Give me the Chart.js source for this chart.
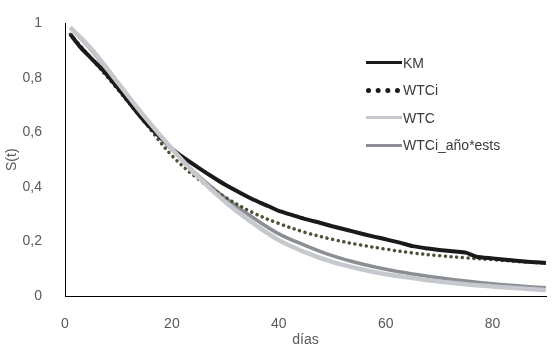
<!DOCTYPE html>
<html lang="es">
<head>
<meta charset="utf-8">
<title>S(t) por días</title>
<script src="https://cdn.jsdelivr.net/npm/chart.js@4.4.1/dist/chart.umd.min.js"></script>
<style>
    html, body { margin: 0; padding: 0; background: #fff; }
    .wrap { position: relative; width: 552px; height: 350px; }
    .legend {
        position: absolute; left: 366px; top: 49px;
        font: 14px "Liberation Sans", Arial, sans-serif; color: #3a3a3a;
    }
    .legend .row { display: flex; align-items: center; height: 27.5px; }
    .legend .sample { width: 36px; margin-right: 1px; }
    .legend .km { border-top: 3px solid #1a1a1a; }
    .legend .wtci { border-top: 5px dotted #1a1a1a; width: 34px; margin-right: 3px; }
    .legend .wtc { border-top: 3px solid #c5c9cd; }
    .legend .ests { border-top: 3px solid #8b8e92; }
</style>
</head>
<body>
<div class="wrap">
    <canvas id="survChart" width="552" height="350"></canvas>
    <div class="legend">
        <div class="row"><span class="sample km"></span>KM</div>
        <div class="row"><span class="sample wtci"></span>WTCi</div>
        <div class="row"><span class="sample wtc"></span>WTC</div>
        <div class="row"><span class="sample ests"></span>WTCi_año*ests</div>
    </div>
</div>
<script>
// values
const kmDays = [1, 3, 5, 7, 10, 13, 15, 17, 20, 22, 25, 28, 30, 33, 35, 38, 40, 43, 45, 48, 50, 53, 55, 58, 60, 63, 65, 68, 70, 73, 75, 77, 80, 83, 85, 88, 90];
const kmValues = [0.96, 0.91, 0.87, 0.83, 0.76, 0.685, 0.638, 0.598, 0.54, 0.51, 0.47, 0.432, 0.408, 0.376, 0.356, 0.33, 0.312, 0.294, 0.282, 0.267, 0.256, 0.241, 0.231, 0.217, 0.208, 0.194, 0.183, 0.174, 0.169, 0.163, 0.159, 0.144, 0.138, 0.132, 0.128, 0.124, 0.121];

const days = [1, 5, 10, 15, 20, 25, 30, 35, 40, 45, 50, 55, 60, 65, 70, 75, 80, 85, 90];
const wtciValues = [0.96, 0.87, 0.755, 0.635, 0.515, 0.428, 0.362, 0.307, 0.266, 0.233, 0.208, 0.188, 0.172, 0.158, 0.148, 0.14, 0.133, 0.126, 0.12];
const wtcValues = [0.985, 0.905, 0.78, 0.655, 0.54, 0.435, 0.345, 0.27, 0.205, 0.16, 0.125, 0.1, 0.08, 0.066, 0.053, 0.043, 0.035, 0.028, 0.022];
const estsValues = [0.985, 0.9, 0.775, 0.65, 0.54, 0.44, 0.36, 0.29, 0.228, 0.185, 0.148, 0.12, 0.098, 0.081, 0.067, 0.055, 0.045, 0.037, 0.03];

const xTicks = [0, 20, 40, 60, 80];
const yTicks = [0, 0.2, 0.4, 0.6, 0.8, 1];

const toPoints = (xs, ys) => xs.map((x, i) => ({ x, y: ys[i] }));
const fontFamily = '"Liberation Sans", Arial, sans-serif';
const tickColor = '#595959';

new Chart(document.getElementById('survChart'), {
    type: 'line',
    data: {
        datasets: [
            {
                label: 'WTC',
                data: toPoints(days, wtcValues),
                borderColor: '#c5c9cd',
                borderWidth: 4.5,
                tension: 0.35,
                order: 0,
            },
            {
                label: 'KM',
                data: toPoints(kmDays, kmValues),
                borderColor: '#1a1a1a',
                borderWidth: 4,
                tension: 0.2,
                order: 1,
            },
            {
                label: 'WTCi',
                data: toPoints(days, wtciValues),
                borderColor: '#4d5138',
                borderWidth: 3.5,
                borderDash: [0.1, 5.6],
                borderCapStyle: 'round',
                tension: 0.35,
                order: 2,
            },
            {
                label: 'WTCi_año*ests',
                data: toPoints(days, estsValues),
                borderColor: '#8b8e92',
                borderWidth: 3.5,
                tension: 0.35,
                order: 3,
            },
        ],
    },
    options: {
        responsive: false,
        animation: false,
        layout: { padding: { top: 18, right: 6, left: 0, bottom: 0 } },
        elements: { point: { radius: 0 } },
        plugins: {
            legend: { display: false },
            tooltip: { enabled: false },
        },
        scales: {
            x: {
                type: 'linear',
                min: 0,
                max: 90,
                afterBuildTicks(scale) {
                    scale.ticks = xTicks.map(value => ({ value }));
                },
                afterFit(scale) { scale.height = 54; },
                grid: { display: false },
                border: { display: true, color: '#000', width: 1 },
                ticks: {
                    padding: 12,
                    color: tickColor,
                    font: { family: fontFamily, size: 14 },
                },
                title: {
                    display: true,
                    text: 'días',
                    color: tickColor,
                    font: { family: fontFamily, size: 14 },
                    padding: { top: 0, bottom: 1 },
                },
            },
            y: {
                min: 0,
                max: 1,
                afterBuildTicks(scale) {
                    scale.ticks = yTicks.map(value => ({ value }));
                },
                afterFit(scale) { scale.width = 65; },
                grid: { display: false },
                border: { display: true, color: '#000', width: 1 },
                ticks: {
                    padding: 15,
                    color: tickColor,
                    font: { family: fontFamily, size: 14 },
                    callback: value => String(Number(value.toFixed(1))).replace('.', ','),
                },
                title: {
                    display: true,
                    text: 'S(t)',
                    color: tickColor,
                    font: { family: fontFamily, size: 14 },
                    padding: { top: 4, bottom: 0 },
                },
            },
        },
    },
});
</script>
</body>
</html>
